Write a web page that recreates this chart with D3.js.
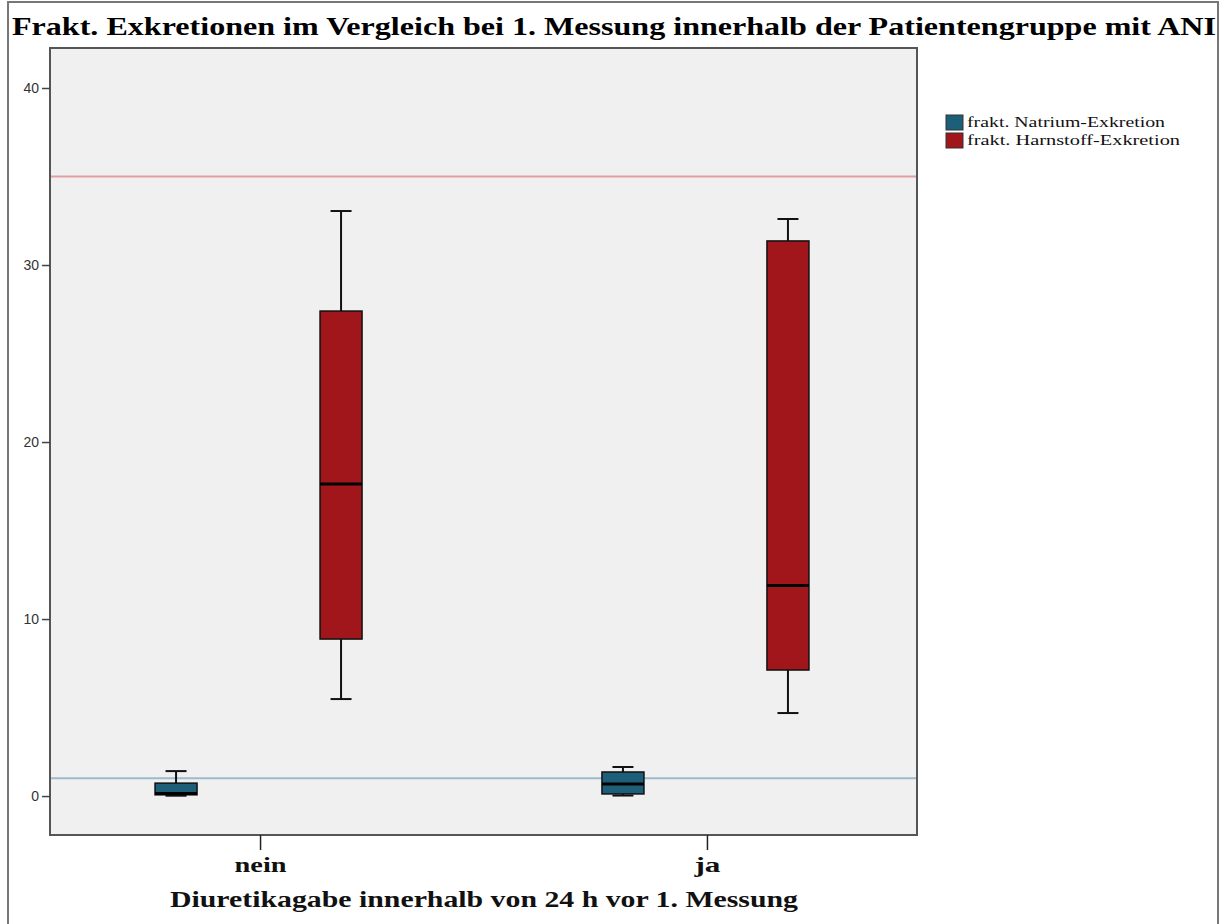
<!DOCTYPE html>
<html>
<head>
<meta charset="utf-8">
<script src="https://cdn.jsdelivr.net/npm/d3@7"></script>
<style>
  html, body { margin: 0; padding: 0; background: #fff; }
  svg { display: block; }
</style>
</head>
<body>
<svg id="chart" width="1230" height="924"></svg>
<script>
// Groups on the x axis and the two measured excretion series
const groups = ["nein", "ja"];
const seriesNames = ["frakt. Natrium-Exkretion", "frakt. Harnstoff-Exkretion"];
const seriesColors = ["#1d5f78", "#a1161a"];

// Box statistics per group: [lower whisker, Q1, median, Q3, upper whisker]
const natrium = [
  [0.02, 0.07, 0.14, 0.73, 1.41],
  [0.03, 0.12, 0.68, 1.36, 1.64]
];
const harnstoff = [
  [5.48, 8.87, 17.63, 27.4, 33.05],
  [4.69, 7.12, 11.9, 31.36, 32.6]
];

// Horizontal reference levels
const refLines = [
  { value: 35, color: "#e0a0a0" },
  { value: 1, color: "#9bbace" }
];

const yTicks = [0, 10, 20, 30, 40];
const title = "Frakt. Exkretionen im Vergleich bei 1. Messung innerhalb der Patientengruppe mit ANI";
const xTitle = "Diuretikagabe innerhalb von 24 h vor 1. Messung";

const svg = d3.select("#chart");
const plot = { left: 50, right: 917, top: 48, bottom: 835 };
const serif = "Liberation Serif, Times New Roman, serif";

// Outer frame
svg.append("path")
  .attr("d", `M8,924 V2 H1218 V924`)
  .attr("fill", "none").attr("stroke", "#777").attr("stroke-width", 2);

// Title
svg.append("text")
  .attr("x", 12).attr("y", 35)
  .attr("font-family", serif)
  .attr("font-weight", "bold").attr("font-size", 26)
  .attr("textLength", 1204).attr("lengthAdjust", "spacingAndGlyphs")
  .attr("fill", "#000")
  .text(title);

const y = d3.scaleLinear().domain([-2.2, 42.26]).range([plot.bottom, plot.top]);
const x = d3.scalePoint().domain(groups).range([plot.left, plot.right]).padding(0.47);
const xs = d3.scalePoint().domain(seriesNames).range([-84, 81]);
const boxW = 42;

// Plot background
svg.append("rect")
  .attr("x", plot.left).attr("y", plot.top)
  .attr("width", plot.right - plot.left).attr("height", plot.bottom - plot.top)
  .attr("fill", "#f0f0f0");

// Reference lines
svg.selectAll("line.ref").data(refLines).join("line")
  .attr("class", "ref")
  .attr("x1", plot.left).attr("x2", plot.right)
  .attr("y1", d => y(d.value)).attr("y2", d => y(d.value))
  .attr("stroke", d => d.color).attr("stroke-width", 2);

// Boxes
const allSeries = [natrium, harnstoff];
allSeries.forEach((stats, si) => {
  groups.forEach((g, gi) => {
    const [lo, q1, med, q3, hi] = stats[gi];
    const cx = x(g) + xs(seriesNames[si]);
    const gEl = svg.append("g");
    // whiskers
    gEl.append("line").attr("x1", cx).attr("x2", cx).attr("y1", y(hi)).attr("y2", y(q3))
      .attr("stroke", "#111").attr("stroke-width", 2);
    gEl.append("line").attr("x1", cx).attr("x2", cx).attr("y1", y(q1)).attr("y2", y(lo))
      .attr("stroke", "#111").attr("stroke-width", 2);
    [hi, lo].forEach(v => {
      gEl.append("line").attr("x1", cx - boxW / 4).attr("x2", cx + boxW / 4)
        .attr("y1", y(v)).attr("y2", y(v))
        .attr("stroke", "#111").attr("stroke-width", 2);
    });
    // box
    gEl.append("rect")
      .attr("x", cx - boxW / 2).attr("y", y(q3))
      .attr("width", boxW).attr("height", y(q1) - y(q3))
      .attr("fill", seriesColors[si]).attr("stroke", "#111").attr("stroke-width", 1.5);
    // median
    gEl.append("line").attr("x1", cx - boxW / 2).attr("x2", cx + boxW / 2)
      .attr("y1", y(med)).attr("y2", y(med))
      .attr("stroke", "#000").attr("stroke-width", 3);
  });
});

// Plot border
svg.append("rect")
  .attr("x", plot.left).attr("y", plot.top)
  .attr("width", plot.right - plot.left).attr("height", plot.bottom - plot.top)
  .attr("fill", "none").attr("stroke", "#555").attr("stroke-width", 2);

// Y axis
const yAxis = svg.append("g")
  .attr("transform", `translate(${plot.left},0)`)
  .call(d3.axisLeft(y).tickValues(yTicks).tickSize(8).tickSizeOuter(0).tickPadding(3));
yAxis.select(".domain").remove();
yAxis.selectAll(".tick line").attr("stroke", "#444").attr("stroke-width", 1.5);
yAxis.selectAll(".tick text")
  .attr("font-family", "Liberation Sans, Arial, sans-serif")
  .attr("font-size", 14).attr("fill", "#333");

// X axis
const xAxis = svg.append("g")
  .attr("transform", `translate(0,${plot.bottom})`)
  .call(d3.axisBottom(x).tickSize(15).tickSizeOuter(0).tickPadding(6));
xAxis.select(".domain").remove();
xAxis.selectAll(".tick line").attr("stroke", "#222").attr("stroke-width", 1.5);
xAxis.selectAll(".tick text")
  .attr("font-family", serif)
  .attr("font-weight", "bold").attr("font-size", 22).attr("fill", "#111")
  .attr("textLength", d => d.length * 13)
  .attr("lengthAdjust", "spacingAndGlyphs");

svg.append("text")
  .attr("x", 484).attr("y", 907)
  .attr("text-anchor", "middle")
  .attr("font-family", serif)
  .attr("font-weight", "bold").attr("font-size", 23)
  .attr("textLength", 628).attr("lengthAdjust", "spacingAndGlyphs")
  .attr("fill", "#111")
  .text(xTitle);

// Legend
const legend = svg.append("g").attr("transform", "translate(946,115)");
seriesNames.forEach((name, i) => {
  const row = legend.append("g").attr("transform", `translate(0,${i * 18})`);
  row.append("rect").attr("width", 17).attr("height", 15)
    .attr("fill", seriesColors[i]).attr("stroke", "#333").attr("stroke-width", 1);
  row.append("text").attr("x", 21).attr("y", 12)
    .attr("font-family", serif)
    .attr("font-size", 14).attr("fill", "#111")
    .attr("textLength", i === 0 ? 198 : 213).attr("lengthAdjust", "spacingAndGlyphs")
    .text(name);
});
</script>
</body>
</html>
